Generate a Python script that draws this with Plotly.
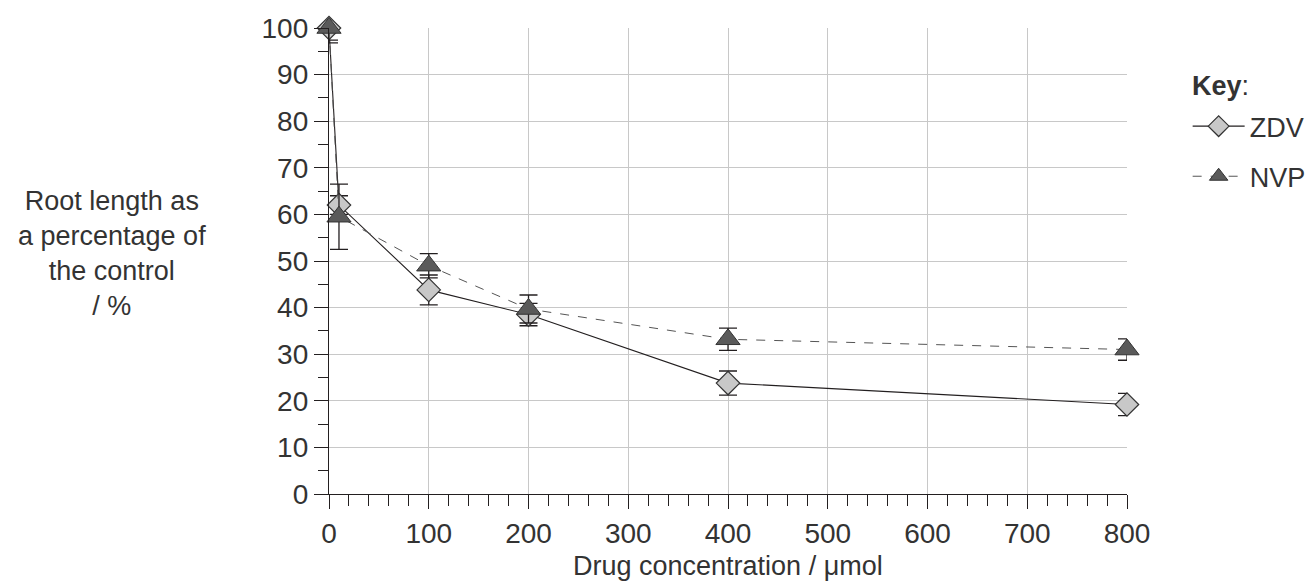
import plotly.graph_objects as go

conc = [0, 10, 100, 200, 400, 800]
zdv = [100, 62, 43.8, 38.5, 23.8, 19.2]
zdv_err = [2.6, 2.0, 3.2, 2.4, 2.6, 2.4]
nvp = [100, 59.5, 49, 39.7, 33.2, 31]
nvp_err = [3.2, 7.0, 2.6, 3.0, 2.4, 2.3]
x_ticks = [0, 100, 200, 300, 400, 500, 600, 700, 800]
y_ticks = [0, 10, 20, 30, 40, 50, 60, 70, 80, 90, 100]

INK = "#231f20"
TXT = "#333333"
FONT = "Liberation Sans, Arial, sans-serif"

fig = go.Figure()
fig.add_trace(go.Scatter(
    x=conc, y=zdv, name="ZDV", mode="lines+markers",
    line=dict(color=INK, width=1.1),
    marker=dict(symbol="diamond", size=18, color="#c8c8c8",
                line=dict(color="#333333", width=1.2)),
    error_y=dict(type="data", array=zdv_err, color=INK, thickness=1.3, width=9),
    cliponaxis=False, legendgroup="a", legendrank=1,
))
fig.add_trace(go.Scatter(
    x=conc, y=nvp, name="NVP", mode="lines+markers",
    line=dict(color="#555555", width=1, dash="dash"),
    marker=dict(symbol="triangle-up", size=21, color="#5a5a5a",
                line=dict(color="#333333", width=1)),
    error_y=dict(type="data", array=nvp_err, color=INK, thickness=1.3, width=9),
    cliponaxis=False, legendgroup="b", legendrank=2,
))

fig.update_layout(
    width=1306, height=575,
    margin=dict(l=321, r=187, t=20, b=89, autoexpand=False),
    paper_bgcolor="white", plot_bgcolor="white",
    font=dict(family=FONT, size=27, color=TXT),
    showlegend=True,
    legend=dict(
        x=1.076, y=0.841, xanchor="left", yanchor="top",
        font=dict(size=27, color=TXT),
        itemwidth=52,
        traceorder="grouped", tracegroupgap=12,
        bgcolor="rgba(0,0,0,0)",
    ),
    xaxis=dict(
        range=[0, 800], tickvals=x_ticks, ticktext=[str(v) for v in x_ticks],
        automargin=False,
        showline=True, linecolor=INK, linewidth=1.3,
        ticks="outside", ticklen=14, tickwidth=1.3, tickcolor=INK,
        showgrid=True, gridcolor="#c8c8c8", gridwidth=1.2,
        zeroline=False,
        minor=dict(dtick=20, ticks="outside", ticklen=11, tickwidth=1.2,
                   tickcolor=INK, showgrid=False),
        tickfont=dict(size=28, color=TXT),
    ),
    yaxis=dict(
        range=[0, 100], tickvals=y_ticks, ticktext=[str(v) for v in y_ticks],
        automargin=False,
        showline=True, linecolor=INK, linewidth=1.3,
        ticks="outside", ticklen=14, tickwidth=1.3, tickcolor=INK,
        showgrid=True, gridcolor="#c8c8c8", gridwidth=1.2,
        zeroline=False,
        minor=dict(dtick=5, ticks="outside", ticklen=10, tickwidth=1.2,
                   tickcolor=INK, showgrid=False),
        tickfont=dict(size=28, color=TXT),
    ),
    annotations=[
        dict(
            text="Root length as<br>a percentage of<br>the control<br>/ %",
            xref="paper", yref="paper", x=-0.272, y=0.517,
            xanchor="center", yanchor="middle", showarrow=False, align="center",
            font=dict(size=27, color=TXT),
        ),
        dict(
            text="Drug concentration / μmol",
            xref="paper", yref="paper", x=0.5, y=-0.1545,
            xanchor="center", yanchor="middle", showarrow=False,
            font=dict(size=27, color=TXT),
        ),
        dict(
            text="<b>Key</b>:",
            xref="paper", yref="paper", x=1.079, y=0.8755,
            xanchor="left", yanchor="middle", showarrow=False,
            font=dict(size=27, color=TXT),
        ),
    ],
)

fig.write_html("out.html")
